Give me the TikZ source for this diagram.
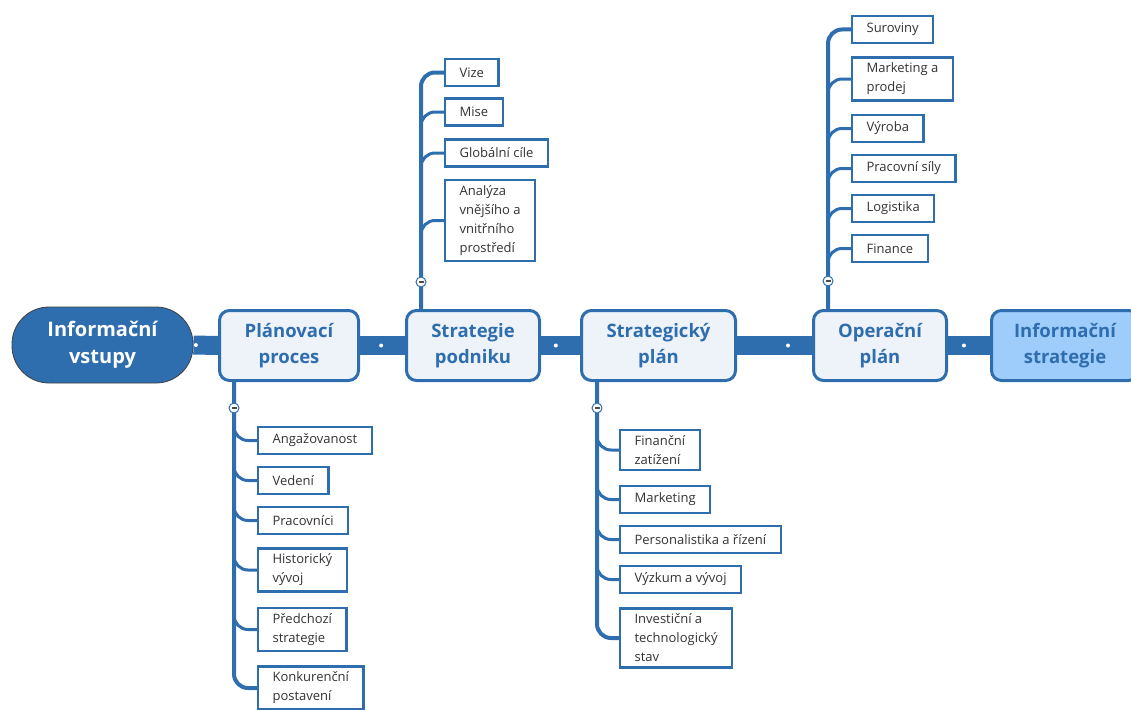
\documentclass[tikz,border=0pt]{standalone}
\usepackage{fontspec}
\setmainfont{Open Sans}
\usepackage{tikz}
\usepackage{xcolor}
\definecolor{mapblue}{HTML}{2E6DAE}
\definecolor{mapfill}{HTML}{EEF3FA}
\definecolor{mapsky}{HTML}{9ECCFB}
\definecolor{maptext}{HTML}{333333}

\begin{document}
\begin{tikzpicture}[x=1pt,y=1pt,
  every node/.style={font=\fontsize{13}{19}\selectfont},
  topic/.style={draw=mapblue,line width=3pt,fill=mapfill,rounded corners=10pt,minimum height=70pt,
    align=center,text=mapblue,font=\fontsize{18.5}{26}\selectfont\bfseries,inner sep=0pt},
  leaf/.style={draw=mapblue,line width=2.2pt,fill=white,anchor=west,align=left,text=maptext,
    inner xsep=14.5pt,inner ysep=5.5pt,minimum height=27pt},
  bar/.style={mapblue,line width=19pt},
  trunk/.style={mapblue,line width=4pt,rounded corners=14pt},
  twig/.style={mapblue,line width=3pt,rounded corners=14pt},
  fold/.style={circle,draw=mapblue,fill=white,line width=1pt,minimum size=10pt,inner sep=0pt,
    path picture={\draw[black!70,line width=1.2pt]
      ([xshift=-2.5pt]path picture bounding box.center) -- ([xshift=2.5pt]path picture bounding box.center);}},
  knob/.style={circle,fill=white,minimum size=4pt,inner sep=0pt}]
\useasboundingbox (0,0) rectangle (1131,-709);

\node[draw=black!75,line width=0.8pt,fill=mapblue,rounded corners=37pt,minimum width=181pt,minimum height=76pt,
  align=center,text=white,font=\fontsize{20}{27}\selectfont\bfseries] (v) at (102.5,-345) {Informační\\vstupy};
\node[topic,minimum width=139pt] (p) at (289,-345.5) {Plánovací\\proces};
\node[topic,minimum width=133pt] (s) at (473,-345.5) {Strategie\\podniku};
\node[topic,minimum width=154pt] (sp) at (658.5,-345.5) {Strategický\\plán};
\node[topic,minimum width=133pt] (o) at (880,-345.5) {Operační\\plán};
\node[topic,minimum width=147pt,fill=mapsky] (i) at (1065,-345.5) {Informační\\strategie};

\draw[bar] (v.east) -- node[knob,pos=0.1] (k1) {} (p.west);
\draw[bar] (p.east) -- node[knob,pos=0.47] (k2) {} (s.west);
\draw[bar] (s.east) -- node[knob,pos=0.38] (k3) {} (sp.west);
\draw[bar] (sp.east) -- node[knob,pos=0.68] (k4) {} (o.west);
\draw[bar] (o.east) -- node[knob,pos=0.38] (k5) {} (i.west);

\node[leaf] (p1) at (257,-440.5) {Angažovanost};
\node[leaf] (p2) at (257,-480.5) {Vedení};
\node[leaf] (p3) at (257,-520.5) {Pracovníci};
\node[leaf] (p4) at (257,-570) {Historický\\vývoj};
\node[leaf] (p5) at (257,-629.5) {Předchozí\\strategie};
\node[leaf] (p6) at (257,-688) {Konkurenční\\postavení};

\node[leaf] (s1) at (444,-72.5) {Vize};
\node[leaf] (s2) at (444,-112) {Mise};
\node[leaf] (s3) at (444,-153) {Globální cíle};
\node[leaf] (s4) at (444,-220.5) {Analýza\\vnějšího a\\vnitřního\\prostředí};

\node[leaf] (sp1) at (619,-450) {Finanční\\zatížení};
\node[leaf] (sp2) at (619,-499.5) {Marketing};
\node[leaf] (sp3) at (619,-539.5) {Personalistika a řízení};
\node[leaf] (sp4) at (619,-579.5) {Výzkum a vývoj};
\node[leaf] (sp5) at (619,-638) {Investiční a\\technologický\\stav};

\node[leaf] (o1) at (851,-29.5) {Suroviny};
\node[leaf] (o2) at (851,-79) {Marketing a\\prodej};
\node[leaf] (o3) at (851,-128.5) {Výroba};
\node[leaf] (o4) at (851,-168.5) {Pracovní síly};
\node[leaf] (o5) at (851,-208.5) {Logistika};
\node[leaf] (o6) at (851,-248.5) {Finance};

\coordinate (pc) at (234,-408);
\coordinate (sc) at (421,-282);
\coordinate (spc) at (597,-408);
\coordinate (oc) at (828,-281);

\draw[trunk] (p.south -| pc) -- (pc) |- (p6.west);
\foreach \c in {p1,p2,p3,p4,p5} \draw[twig] (pc) |- (\c.west);
\draw[trunk] (s.north -| sc) -- (sc) |- (s1.west);
\foreach \c in {s2,s3,s4} \draw[twig] (sc) |- (\c.west);
\draw[trunk] (sp.south -| spc) -- (spc) |- (sp5.west);
\foreach \c in {sp1,sp2,sp3,sp4} \draw[twig] (spc) |- (\c.west);
\draw[trunk] (o.north -| oc) -- (oc) |- (o1.west);
\foreach \c in {o2,o3,o4,o5,o6} \draw[twig] (oc) |- (\c.west);

\node[fold] (pf) at (pc) {};
\node[fold] (sf) at (sc) {};
\node[fold] (spf) at (spc) {};
\node[fold] (of) at (oc) {};
\end{tikzpicture}
\end{document}
